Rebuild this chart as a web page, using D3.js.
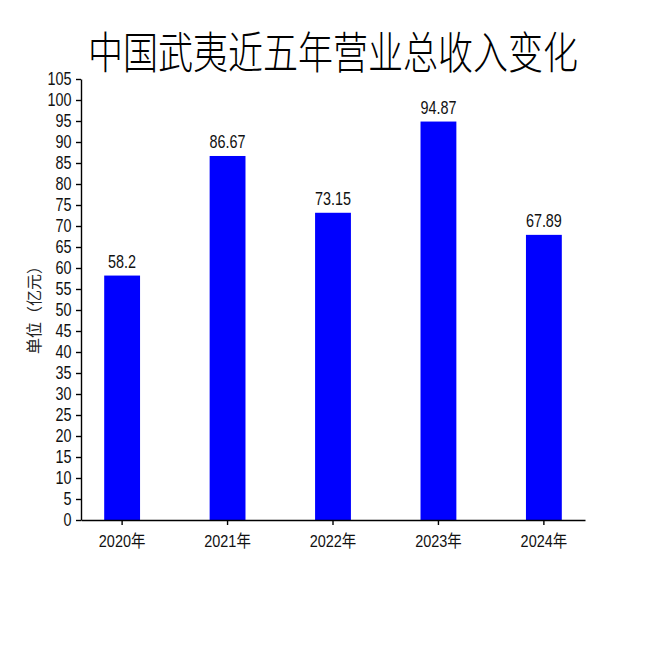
<!DOCTYPE html>
<html>
<head>
<meta charset="utf-8">
<script src="https://cdn.jsdelivr.net/npm/d3@7"></script>
<style>
    body { margin: 0; background: #fff; }
    text { font-family: "Liberation Sans", "Noto Sans CJK SC", sans-serif; }
</style>
</head>
<body>
<div id="chart"></div>
<script>
// chart data
var years = ["2020年", "2021年", "2022年", "2023年", "2024年"];
var revenue = [58.2, 86.67, 73.15, 94.87, 67.89];
var yTicks = d3.range(0, 106, 5);
var title = "中国武夷近五年营业总收入变化";
var yLabel = "单位（亿元）";

var width = 650, height = 650;
var margin = {top: 79, right: 65, bottom: 130, left: 81};
var narrow = 0.8; // the reference uses a condensed face

var svg = d3.select("#chart").append("svg")
    .attr("width", width)
    .attr("height", height);

var xScale = d3.scaleBand()
    .domain(years)
    .range([margin.left, width - margin.right])
    .paddingInner(0.66)
    .paddingOuter(0.22);

var yScale = d3.scaleLinear()
    .domain([0, 105])
    .range([height - margin.bottom, margin.top]);

// bars
svg.selectAll(".bar")
    .data(revenue)
    .enter().append("rect")
    .attr("class", "bar")
    .attr("x", function(d, i) { return xScale(years[i]); })
    .attr("width", xScale.bandwidth())
    .attr("y", function(d) { return yScale(d); })
    .attr("height", function(d) { return yScale(0) - yScale(d); })
    .style("fill", "#0000ff");

// value labels
svg.selectAll(".val")
    .data(revenue)
    .enter().append("text")
    .attr("class", "val")
    .attr("transform", function(d, i) {
        var cx = xScale(years[i]) + xScale.bandwidth() / 2;
        return "translate(" + cx + "," + (yScale(d) - 8) + ") scale(" + narrow + ",1)";
    })
    .attr("text-anchor", "middle")
    .style("font-size", "18px")
    .style("fill", "#111")
    .text(function(d) { return d; });

// axes
var yAxis = d3.axisLeft(yScale)
    .tickValues(yTicks)
    .tickSize(5)
    .tickSizeOuter(0);

var xAxis = d3.axisBottom(xScale)
    .tickSize(5)
    .tickSizeOuter(0);

var gy = svg.append("g")
    .attr("transform", "translate(" + margin.left + ",0)")
    .call(yAxis);
gy.selectAll("text")
    .attr("x", -12)
    .attr("transform", "scale(" + narrow + ",1)")
    .style("font-size", "18px")
    .style("fill", "#111");

var gx = svg.append("g")
    .attr("transform", "translate(0," + (height - margin.bottom) + ")")
    .call(xAxis);
gx.selectAll("text")
    .attr("dy", "1.1em")
    .attr("transform", "scale(0.85,1)")
    .style("font-size", "17px")
    .style("fill", "#111");

svg.selectAll(".domain, .tick line").attr("stroke", "#000").attr("stroke-width", 1.4);

// title
svg.append("text")
    .attr("transform", "translate(333,69) scale(1,1.28)")
    .attr("text-anchor", "middle")
    .style("font-family", "'Noto Sans CJK SC', sans-serif")
    .style("font-weight", 300)
    .style("font-size", "35px")
    .style("fill", "#000")
    .text(title);

// y axis label
svg.append("text")
    .attr("transform", "translate(40,306) rotate(-90)")
    .attr("text-anchor", "middle")
    .style("font-family", "'Noto Sans CJK SC', sans-serif")
    .style("font-size", "16px")
    .style("fill", "#222")
    .text(yLabel);
</script>
</body>
</html>
